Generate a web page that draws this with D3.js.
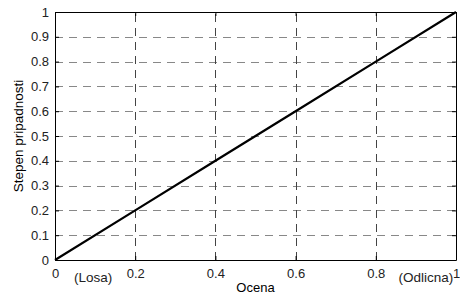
<!DOCTYPE html>
<html>
<head>
<meta charset="utf-8">
<script src="https://cdn.jsdelivr.net/npm/d3@7"></script>
<style>
  body { margin: 0; background: #fff; }
  text { font-family: Arial, "Liberation Sans", sans-serif; }
</style>
</head>
<body>
<script>
const width = 460;
const height = 298;

// Data: membership degree vs grade
const grades = [0, 0.2, 0.4, 0.6, 0.8, 1];
const membership = [0, 0.2, 0.4, 0.6, 0.8, 1];
const xTicks = [0, 0.2, 0.4, 0.6, 0.8, 1];
const yTicks = [0, 0.1, 0.2, 0.3, 0.4, 0.5, 0.6, 0.7, 0.8, 0.9, 1];
const xNotes = [{ x: 0.095, label: '(Losa)' }, { x: 0.925, label: '(Odlicna)' }];

let margin = { top: 12, right: 4, bottom: 38, left: 55 };

let svg = d3
  .select('body')
  .append('svg')
  .attr('width', width)
  .attr('height', height);

let xScale = d3
  .scaleLinear()
  .domain([0, 1])
  .range([margin.left, width - margin.right]);

let yScale = d3
  .scaleLinear()
  .domain([0, 1])
  .range([height - margin.bottom, margin.top]);

// Grid lines
svg
  .append('g')
  .selectAll('line')
  .data(yTicks.filter((d) => d > 0 && d < 1))
  .join('line')
  .attr('x1', xScale(0))
  .attr('x2', xScale(1))
  .attr('y1', (d) => Math.round(yScale(d)) + 0.5)
  .attr('y2', (d) => Math.round(yScale(d)) + 0.5)
  .attr('stroke', '#888')
  .attr('stroke-dasharray', '8,6');

svg
  .append('g')
  .selectAll('line')
  .data(xTicks.filter((d) => d > 0 && d < 1))
  .join('line')
  .attr('x1', (d) => Math.round(xScale(d)) + 0.5)
  .attr('x2', (d) => Math.round(xScale(d)) + 0.5)
  .attr('y1', yScale(0))
  .attr('y2', yScale(1))
  .attr('stroke', '#444')
  .attr('stroke-dasharray', '8,6');

// Axes (box with inner ticks)
let bottomAxis = d3.axisBottom(xScale).tickValues(xTicks).tickSizeInner(-4).tickSizeOuter(0).tickPadding(9).tickFormat(d3.format('~g'));
let topAxis = d3.axisTop(xScale).tickValues(xTicks).tickSizeInner(-4).tickSizeOuter(0).tickFormat('');
let leftAxis = d3.axisLeft(yScale).tickValues(yTicks).tickSizeInner(-4).tickSizeOuter(0).tickPadding(6).tickFormat(d3.format('~g'));
let rightAxis = d3.axisRight(yScale).tickValues(yTicks).tickSizeInner(-4).tickSizeOuter(0).tickFormat('');

function style(g) {
  g.selectAll('text').attr('font-size', 13).attr('fill', '#222');
  g.selectAll('.domain').attr('stroke', '#000').attr('stroke-width', 1);
  g.selectAll('.tick line').attr('stroke', '#000');
}

svg.append('g').attr('transform', `translate(0, ${yScale(0)})`).call(bottomAxis).call(style);
svg.append('g').attr('transform', `translate(0, ${yScale(1)})`).call(topAxis).call(style);
svg.append('g').attr('transform', `translate(${xScale(0)}, 0)`).call(leftAxis).call(style);
svg.append('g').attr('transform', `translate(${xScale(1)}, 0)`).call(rightAxis).call(style);

// The line
let line = d3
  .line()
  .x((d, i) => xScale(grades[i]))
  .y((d) => yScale(d));

svg
  .append('path')
  .datum(membership)
  .attr('d', line)
  .attr('fill', 'none')
  .attr('stroke', '#000')
  .attr('stroke-width', 2.2);

// Extra notes under x axis
svg
  .append('g')
  .selectAll('text')
  .data(xNotes)
  .join('text')
  .attr('x', (d) => xScale(d.x))
  .attr('y', yScale(0) + 22)
  .attr('text-anchor', 'middle')
  .attr('font-size', 13.5)
  .attr('fill', '#222')
  .text((d) => d.label);

// Axis titles
svg
  .append('text')
  .attr('x', (xScale(0) + xScale(1)) / 2)
  .attr('y', height - 6)
  .attr('text-anchor', 'middle')
  .attr('font-size', 13)
  .text('Ocena');

svg
  .append('text')
  .attr('transform', `translate(23, ${(yScale(0) + yScale(1)) / 2}) rotate(-90)`)
  .attr('text-anchor', 'middle')
  .attr('font-size', 13.5)
  .text('Stepen pripadnosti');
</script>
</body>
</html>
